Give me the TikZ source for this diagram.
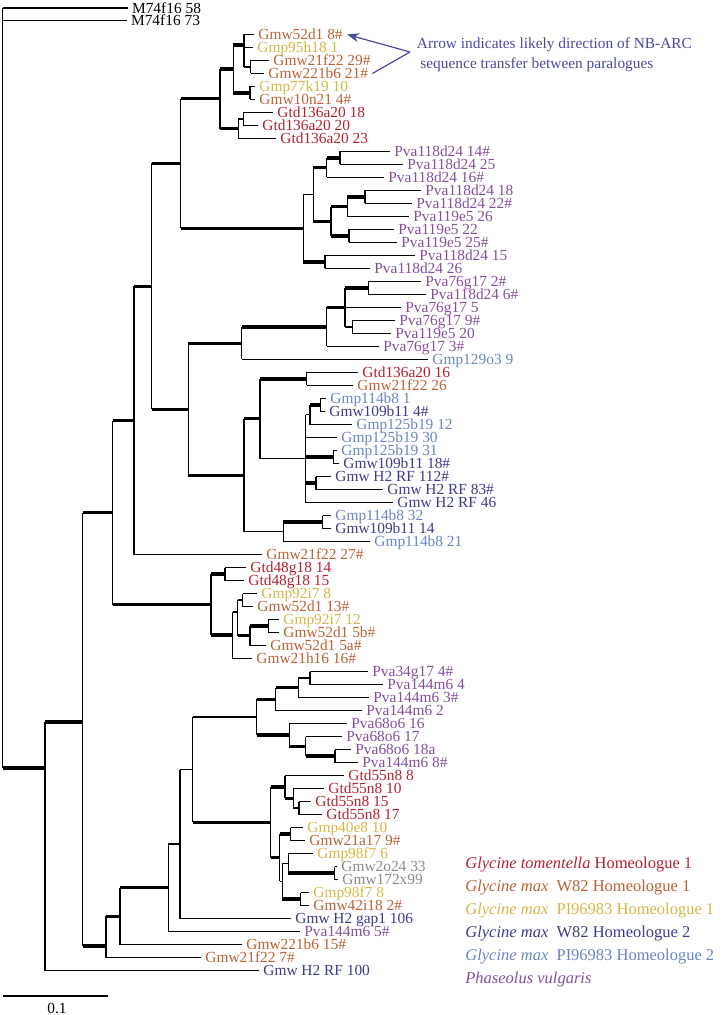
\documentclass[tikz,border=0pt]{standalone}
\usepackage{fontspec}
\setmainfont{Liberation Serif}
\usetikzlibrary{arrows.meta}
\definecolor{gtdRed}{HTML}{B2232F}
\definecolor{gmwOne}{HTML}{BA6236}
\definecolor{gmpOne}{HTML}{D7B648}
\definecolor{gmwTwo}{HTML}{3C3C8C}
\definecolor{gmpTwo}{HTML}{6A86C2}
\definecolor{pvaPurple}{HTML}{844F9C}
\definecolor{greyTip}{HTML}{8A8A8A}
\definecolor{noteBlue}{HTML}{4A4AA0}

\begin{document}
\begin{tikzpicture}[
    x=0.5pt, y=-0.5pt,
    twig/.style={line width=0.55pt},
    bough/.style={line width=1.6pt},
    leaf/.style={anchor=west, inner xsep=2pt, inner ysep=0pt, text height=5.1pt, text depth=0pt, font=\fontsize{7.7}{8}\selectfont},
    key/.style={anchor=west, inner sep=0pt, text height=5.45pt, text depth=0pt, font=\fontsize{8.25}{9}\selectfont},
    pointer/.style={-{Stealth[length=6pt, width=4.5pt]}, line width=0.6pt, draw=noteBlue},
]
\useasboundingbox (0,0) rectangle (722,1015);

% ===== LEAVES =====
\coordinate (root) at (2.7,8);
\node[leaf] (l1) at (127.7,8) {M74f16 58};
\node[leaf] (l2) at (126.7,20.5) {M74f16 73};
\foreach \i/\tx/\cl/\lab in {
    3/254/gmwOne/Gmw52d1 8\#, 4/253/gmpOne/Gmp95h18 1, 5/269/gmwOne/Gmw21f22 29\#,
    6/264/gmwOne/Gmw221b6 21\#, 7/255/gmpOne/Gmp77k19 10, 8/255/gmwOne/Gmw10n21 4\#,
    9/273/gtdRed/Gtd136a20 18, 10/258/gtdRed/Gtd136a20 20, 11/276/gtdRed/Gtd136a20 23,
    12/390/pvaPurple/Pva118d24 14\#, 13/403/pvaPurple/Pva118d24 25, 14/384/pvaPurple/Pva118d24 16\#,
    15/421/pvaPurple/Pva118d24 18, 16/412/pvaPurple/Pva118d24 22\#, 17/409/pvaPurple/Pva119e5 26,
    18/394/pvaPurple/Pva119e5 22, 19/397/pvaPurple/Pva119e5 25\#, 20/415/pvaPurple/Pva118d24 15,
    21/370/pvaPurple/Pva118d24 26, 22/421/pvaPurple/Pva76g17 2\#, 23/426/pvaPurple/Pva118d24 6\#,
    24/401/pvaPurple/Pva76g17 5, 25/395/pvaPurple/Pva76g17 9\#, 26/391/pvaPurple/Pva119e5 20,
    27/379/pvaPurple/Pva76g17 3\#, 28/428/gmpTwo/Gmp129o3 9, 29/358/gtdRed/Gtd136a20 16,
    30/353/gmwOne/Gmw21f22 26, 31/326/gmpTwo/Gmp114b8 1, 32/325/gmwTwo/Gmw109b11 4\#,
    33/352/gmpTwo/Gmp125b19 12, 34/337/gmpTwo/Gmp125b19 30, 35/337/gmpTwo/Gmp125b19 31,
    36/339/gmwTwo/Gmw109b11 18\#, 37/331/gmwTwo/Gmw H2 RF 112\#, 38/383/gmwTwo/Gmw H2 RF 83\#,
    39/393/gmwTwo/Gmw H2 RF 46, 40/331/gmpTwo/Gmp114b8 32, 41/331/gmwTwo/Gmw109b11 14,
    42/370/gmpTwo/Gmp114b8 21, 43/262/gmwOne/Gmw21f22 27\#, 44/246/gtdRed/Gtd48g18 14,
    45/244/gtdRed/Gtd48g18 15, 46/257/gmpOne/Gmp92i7 8, 47/253/gmwOne/Gmw52d1 13\#,
    48/279/gmpOne/Gmp92i7 12, 49/279/gmwOne/Gmw52d1 5b\#, 50/266/gmwOne/Gmw52d1 5a\#,
    51/252/gmwOne/Gmw21h16 16\#, 52/368/pvaPurple/Pva34g17 4\#, 53/383/pvaPurple/Pva144m6 4,
    54/369/pvaPurple/Pva144m6 3\#, 55/362/pvaPurple/Pva144m6 2, 56/347/pvaPurple/Pva68o6 16,
    57/342/pvaPurple/Pva68o6 17, 58/351/pvaPurple/Pva68o6 18a, 59/358/pvaPurple/Pva144m6 8\#,
    60/344/gtdRed/Gtd55n8 8, 61/324/gtdRed/Gtd55n8 10, 62/311/gtdRed/Gtd55n8 15,
    63/322/gtdRed/Gtd55n8 17, 64/303/gmpOne/Gmp40e8 10, 65/305/gmwOne/Gmw21a17 9\#,
    66/313/gmpOne/Gmp98f7 6, 67/337/greyTip/Gmw2o24 33, 68/338/greyTip/Gmw172x99,
    69/309/gmpOne/Gmp98f7 8, 70/309/gmwOne/Gmw42i18 2\#, 71/291/gmwTwo/Gmw H2 gap1 106,
    72/300/pvaPurple/Pva144m6 5\#, 73/242/gmwOne/Gmw221b6 15\#, 74/201/gmwOne/Gmw21f22 7\#,
    75/259/gmwTwo/Gmw H2 RF 100}{
    \pgfmathsetmacro{\ly}{34.5+13*(\i-3)}
    \node[leaf, text=\cl] (l\i) at (\tx,\ly) {\lab};
}

% ===== INTERNAL NODES (x = depth, y = stem) =====
\foreach \n/\x/\y in {
    nA/45/768, nB/82.7/722, nP1/112.5/512.5, nP2/134/420.5, nP3/151.7/286.4,
    nP4/180.7/163.5, nP5/188.3/409.3, nP6/241.7/343.3, nP7/244/475.3,
    t1/220/98.8, t2/233.3/69, t3/244/45, t4/250.7/67, t7/250/93, t5/238.3/128.7, t6/243.3/119,
    pa/340/158, pb/326.7/167.7, pc/365/197, pd/347.3/206.7, pe/349/236,
    pf/331/221.4, pg/313.3/194.5, ph/325/262, pi/303.3/228.3,
    qa/368.3/288, qb/352.3/327, qc/345/307.5, qd/326.7/327,
    ra/306.7/379, rb/320.3/405, rc/310/414.8, rd/333.3/457, re/316/483,
    rf/305.5/458.6, rg/260/418.8, rh/322.7/522, ri/283.3/531.8,
    sa/225/574, sb/242.7/600, sc/268.3/626, sd/250/635.8, se/237.7/612, sf/232.7/635, sg/211/604.5,
    ta/310/678, tb/298.3/687.8, tc/275.7/699.1, td/335/756, te/305.7/746.3, tf/289.3/734.9, tg/256.7/717,
    ua/299/808, ub/293.3/798.3, uc/285/786.9, ud/290.5/834, ue/334.5/873,
    uf/288.3/863.3, ug/300.5/899, uh/282.3/881.1, ui/279.5/857.6, uj/270.7/822.2,
    nC3/192.7/769.6, nC2/180/844, nC1/168.3/887.8, nE2/120/916.1, nE1/106/946}{
    \coordinate (\n) at (\x,\y);
}

% ===== HORIZONTAL BRANCHES =====
\foreach \p/\c/\s in {
    root/l1/twig, root/l2/twig, root/nA/bough, nA/nB/bough, nA/l75/twig,
    nB/nP1/bough, nB/nE1/bough, nP1/nP2/bough, nP1/sg/bough, nP2/nP3/bough, nP2/l43/twig,
    nP3/nP4/bough, nP3/nP5/bough, nP4/t1/bough, nP4/pi/bough,
    t1/t2/bough, t1/t5/bough, t2/t3/bough, t2/t7/bough,
    t3/l3/twig, t3/l4/twig, t3/t4/twig, t4/l5/twig, t4/l6/twig, t7/l7/twig, t7/l8/twig,
    t5/t6/twig, t5/l11/twig, t6/l9/twig, t6/l10/twig,
    pi/pg/twig, pi/ph/bough, pg/pb/bough, pg/pf/bough, pb/pa/bough, pb/l14/twig,
    pa/l12/twig, pa/l13/twig, pf/pd/bough, pf/pe/bough, pd/pc/bough, pd/l17/twig,
    pc/l15/twig, pc/l16/twig, pe/l18/twig, pe/l19/twig, ph/l20/twig, ph/l21/twig,
    nP5/nP6/bough, nP5/nP7/bough, nP6/qd/bough, nP6/l28/twig,
    qd/qc/bough, qd/l27/twig, qc/qa/bough, qc/l24/twig, qc/qb/twig,
    qa/l22/twig, qa/l23/twig, qb/l25/twig, qb/l26/twig,
    nP7/rg/bough, nP7/ri/twig, rg/ra/bough, rg/rf/twig, ra/l29/twig, ra/l30/twig,
    rf/rc/twig, rf/l34/twig, rf/rd/bough, rf/re/bough, rf/l39/twig,
    rc/rb/bough, rc/l33/twig, rb/l31/twig, rb/l32/twig, rd/l35/twig, rd/l36/twig,
    re/l37/twig, re/l38/twig, ri/rh/bough, ri/l42/twig, rh/l40/twig, rh/l41/twig,
    sg/sa/bough, sg/sf/bough, sa/l44/twig, sa/l45/twig, sf/se/twig, sf/l51/twig,
    se/sb/twig, se/sd/bough, sb/l46/twig, sb/l47/twig, sd/sc/bough, sd/l50/twig,
    sc/l48/twig, sc/l49/twig,
    nE1/nE2/bough, nE1/l74/twig, nE2/nC1/bough, nE2/l73/twig,
    nC1/nC2/twig, nC1/l72/twig, nC2/nC3/twig, nC2/l71/twig, nC3/tg/twig, nC3/uj/bough,
    tg/tc/bough, tg/tf/bough, tc/tb/bough, tc/l55/twig, tb/ta/twig, tb/l54/twig,
    ta/l52/twig, ta/l53/twig, tf/l56/twig, tf/te/bough, te/l57/twig, te/td/bough,
    td/l58/twig, td/l59/twig,
    uj/uc/bough, uj/ui/bough, uc/l60/twig, uc/ub/bough, ub/l61/twig, ub/ua/twig,
    ua/l62/twig, ua/l63/twig, ui/ud/bough, ui/uh/twig, ud/l64/twig, ud/l65/twig,
    uh/uf/twig, uh/ug/bough, uf/l66/twig, uf/ue/bough, ue/l67/twig, ue/l68/twig,
    ug/l69/twig, ug/l70/twig}{
    \draw[\s] (\p |- \c) -- (\c);
}

% ===== VERTICAL SPANS =====
\foreach \p/\a/\b in {
    root/l1/nA, nA/nB/l75, nB/nP1/nE1, nP1/nP2/sg, nP2/nP3/l43, nP3/nP4/nP5,
    nP4/t1/pi, t1/t2/t5, t2/t3/t7, t3/l3/t4, t4/l5/l6, t7/l7/l8, t5/t6/l11, t6/l9/l10,
    pi/pg/ph, pg/pb/pf, pb/pa/l14, pa/l12/l13, pf/pd/pe, pd/pc/l17, pc/l15/l16,
    pe/l18/l19, ph/l20/l21, nP5/nP6/nP7, nP6/qd/l28, qd/qc/l27, qc/qa/qb,
    qa/l22/l23, qb/l25/l26, nP7/rg/ri, rg/ra/rf, ra/l29/l30, rf/rc/l39, rc/rb/l33,
    rb/l31/l32, rd/l35/l36, re/l37/l38, ri/rh/l42, rh/l40/l41,
    sg/sa/sf, sa/l44/l45, sf/se/l51, se/sb/sd, sb/l46/l47, sd/sc/l50, sc/l48/l49,
    nE1/nE2/l74, nE2/nC1/l73, nC1/nC2/l72, nC2/nC3/l71, nC3/tg/uj,
    tg/tc/tf, tc/tb/l55, tb/ta/l54, ta/l52/l53, tf/l56/te, te/l57/td, td/l58/l59,
    uj/uc/ui, uc/l60/ub, ub/l61/ua, ua/l62/l63, ui/ud/uh, ud/l64/l65,
    uh/uf/ug, uf/l66/ue, ue/l67/l68, ug/l69/l70}{
    \draw[twig] (\p |- \a) -- (\p |- \b);
}

% ===== ANNOTATION =====
\coordinate (apex) at (410,52);
\draw[pointer] (apex) -- (l3.east);
\draw[line width=0.6pt, draw=noteBlue] (apex) -- (l6.east);
\node[leaf, inner xsep=0pt, text=noteBlue] (note1) at (416.5,43.5) {Arrow indicates likely direction of NB-ARC};
\node[leaf, inner xsep=0pt, text=noteBlue] (note2) at (420,63.5) {sequence transfer between paralogues};

% ===== LEGEND =====
\node[key, text=gtdRed] (k1) at (465,863) {\textit{Glycine tomentella} Homeologue 1};
\node[key, text=gmwOne] (k2) at (465,886) {\textit{Glycine max}\enspace W82 Homeologue 1};
\node[key, text=gmpOne] (k3) at (465,909) {\textit{Glycine max}\enspace PI96983 Homeologue 1};
\node[key, text=gmwTwo] (k4) at (465,932) {\textit{Glycine max}\enspace W82 Homeologue 2};
\node[key, text=gmpTwo] (k5) at (465,955) {\textit{Glycine max}\enspace PI96983 Homeologue 2};
\node[key, text=pvaPurple] (k6) at (465,978) {\textit{Phaseolus vulgaris}};

% Scale bar
\coordinate (barL) at (3,996);
\coordinate (barR) at (108,996);
\draw[twig] (barL) -- (barR);
\node[leaf, anchor=center, inner xsep=0pt] (barlab) at (57,1008) {0.1};

\end{tikzpicture}
\end{document}
